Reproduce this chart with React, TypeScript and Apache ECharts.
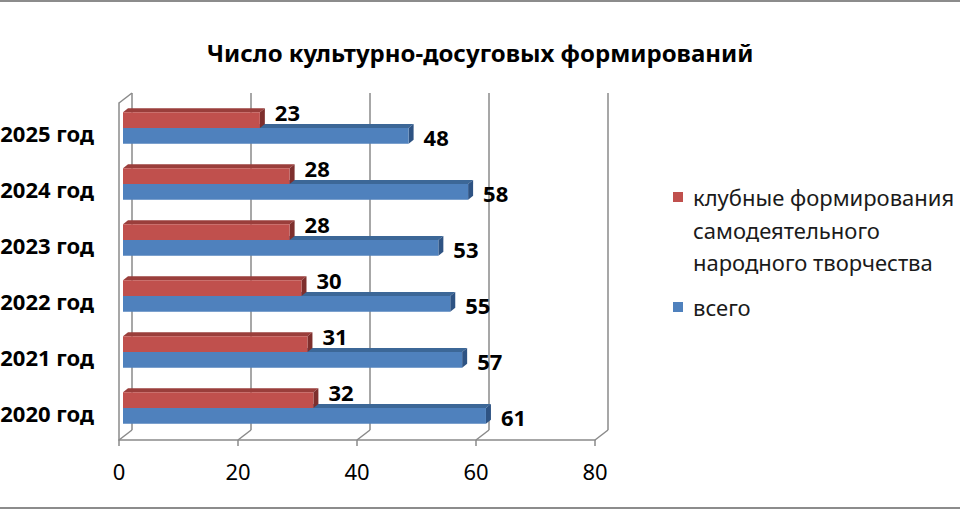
import React, { useEffect, useRef } from "react";
import * as echarts from "echarts";

const categories = ["2020 год", "2021 год", "2022 год", "2023 год", "2024 год", "2025 год"];
const clubValues = [32, 31, 30, 28, 28, 23];
const totalValues = [61, 57, 55, 53, 58, 48];
const xTicks = [0, 20, 40, 60, 80];
const seriesNames = ["клубные формирования самодеятельного народного творчества", "всего"];
const legendLines = ["клубные формирования", "самодеятельного", "народного творчества"];

const FONT = "'Noto Sans', 'DejaVu Sans', sans-serif";
const RED = { front: "#C0504D", top: "#9A3E3B", side: "#7E2F2D" };
const BLUE = { front: "#4F81BD", top: "#3C6797", side: "#2E5383" };
const GRID_COLOR = "#8a8a8a";

function barRenderer(colors: any, upper: boolean) {
  return (params: any, api: any) => {
    const v = api.value(0);
    const ci = api.value(1);
    const end = api.coord([v, ci]);
    const start = api.coord([0, ci]);
    const band = api.size([0, 1])[1];
    const h = band * 0.28;
    const x0 = start[0];
    const x1 = end[0];
    const y0 = upper ? end[1] - h : end[1];
    const y1 = y0 + h;
    const dx = 5;
    const dy = -4;
    const labelY = upper ? y0 - 0.5 : (y0 + y1) / 2 + 1.5;
    return {
      type: "group",
      children: [
        {
          type: "polygon",
          shape: { points: [[x0, y0], [x0 + dx, y0 + dy], [x1 + dx, y0 + dy], [x1, y0]] },
          style: { fill: colors.top },
        },
        {
          type: "polygon",
          shape: { points: [[x1, y0], [x1 + dx, y0 + dy], [x1 + dx, y1 + dy], [x1, y1]] },
          style: { fill: colors.side },
        },
        {
          type: "rect",
          shape: { x: x0, y: y0, width: x1 - x0, height: h },
          style: { fill: colors.front },
        },
        {
          type: "text",
          x: x1 + 15,
          y: labelY,
          style: {
            text: String(v),
            fill: "#000",
            font: `bold 22px ${FONT}`,
            align: "left",
            verticalAlign: "middle",
          },
        },
      ],
    };
  };
}

export default function App() {
  const ref = useRef<HTMLDivElement>(null);
  useEffect(() => {
    if (!ref.current) return;
    const chart = echarts.init(ref.current, undefined, { renderer: "svg" });
    const option: any = {
      animation: false,
      backgroundColor: "#ffffff",
      title: {
        text: "Число культурно-досуговых формирований",
        left: "center",
        top: 35,
        textStyle: { fontFamily: FONT, fontWeight: "bold", fontSize: 24, color: "#000" },
      },
      grid: [
        { left: 123, top: 100, width: 476, height: 336, outerBoundsMode: "none", containLabel: false },
        { left: 132, top: 93, width: 476, height: 337, outerBoundsMode: "none", containLabel: false },
        { left: 119, top: 103, width: 476, height: 337, outerBoundsMode: "none", containLabel: false },
      ],
      xAxis: [
        { gridIndex: 0, type: "value", min: 0, max: 80, interval: 20, show: false },
        {
          gridIndex: 1,
          type: "value",
          min: 0,
          max: 80,
          interval: 20,
          axisLine: { show: false },
          axisTick: { show: false },
          axisLabel: { show: false },
          splitLine: { show: true, lineStyle: { color: GRID_COLOR, width: 1.5 } },
        },
        {
          gridIndex: 2,
          type: "value",
          min: 0,
          max: 80,
          interval: 20,
          axisLine: { show: true, lineStyle: { color: GRID_COLOR, width: 1.5 } },
          axisTick: { show: true, length: 6, lineStyle: { color: GRID_COLOR, width: 1.5 } },
          axisLabel: {
            show: true,
            margin: 20,
            fontFamily: FONT,
            fontSize: 22,
            color: "#000",
            formatter: (val: number) => (xTicks.includes(val) ? String(val) : ""),
          },
          splitLine: { show: false },
        },
      ],
      yAxis: [
        {
          gridIndex: 0,
          type: "category",
          data: categories,
          axisLine: { show: false },
          axisTick: { show: false },
          axisLabel: { show: false },
        },
        { gridIndex: 1, type: "value", min: 0, max: 1, show: false },
        {
          gridIndex: 2,
          type: "value",
          min: 0,
          max: 1,
          axisLine: { show: true, lineStyle: { color: GRID_COLOR, width: 1.5 } },
          axisTick: { show: false },
          axisLabel: { show: false },
          splitLine: { show: false },
        },
      ],
      series: [
        {
          type: "custom",
          name: "frame",
          xAxisIndex: 2,
          yAxisIndex: 2,
          silent: true,
          data: xTicks.map((t) => [t, 0]),
          renderItem: (params: any, api: any) => {
            const v = api.value(0);
            const p = api.coord([v, 0]);
            const children: any[] = [
              {
                type: "line",
                shape: { x1: p[0], y1: p[1], x2: p[0] + 13, y2: p[1] - 10 },
                style: { stroke: GRID_COLOR, lineWidth: 1.5 },
              },
            ];
            if (v === 0) {
              const q = api.coord([0, 1]);
              children.push({
                type: "line",
                shape: { x1: q[0], y1: q[1], x2: q[0] + 13, y2: q[1] - 10 },
                style: { stroke: GRID_COLOR, lineWidth: 1.5 },
              });
            }
            return { type: "group", children };
          },
          z: 1,
        },
        {
          type: "custom",
          name: "categoryLabels",
          xAxisIndex: 0,
          yAxisIndex: 0,
          silent: true,
          data: categories.map((c, i) => [0, i]),
          encode: { x: 0, y: 1 },
          renderItem: (params: any, api: any) => {
            const ci = api.value(1);
            const p = api.coord([0, ci]);
            return {
              type: "text",
              x: p[0] - 29,
              y: p[1] + 5,
              style: {
                text: categories[ci],
                fill: "#000",
                font: `bold 22px ${FONT}`,
                align: "right",
                verticalAlign: "middle",
              },
            };
          },
          z: 2,
        },
        {
          type: "custom",
          name: seriesNames[1],
          xAxisIndex: 0,
          yAxisIndex: 0,
          data: totalValues.map((v, i) => [v, i]),
          encode: { x: 0, y: 1 },
          renderItem: barRenderer(BLUE, false),
          z: 3,
        },
        {
          type: "custom",
          name: seriesNames[0],
          xAxisIndex: 0,
          yAxisIndex: 0,
          data: clubValues.map((v, i) => [v, i]),
          encode: { x: 0, y: 1 },
          renderItem: barRenderer(RED, true),
          z: 4,
        },
      ],
      graphic: [
        { type: "line", shape: { x1: 0, y1: 1, x2: 960, y2: 1 }, style: { stroke: "#8c8c8c", lineWidth: 2 } },
        { type: "line", shape: { x1: 0, y1: 508, x2: 960, y2: 508 }, style: { stroke: "#8c8c8c", lineWidth: 2 } },
        { type: "rect", shape: { x: 673, y: 192, width: 10, height: 10 }, style: { fill: RED.front } },
        {
          type: "text",
          x: 693,
          y: 181,
          style: {
            text: legendLines.join("\n"),
            font: `22px ${FONT}`,
            lineHeight: 32.5,
            fill: "#1a1a1a",
            verticalAlign: "top",
          },
        },
        { type: "rect", shape: { x: 673, y: 302, width: 10, height: 10 }, style: { fill: BLUE.front } },
        {
          type: "text",
          x: 693,
          y: 291,
          style: {
            text: seriesNames[1],
            font: `22px ${FONT}`,
            lineHeight: 32.5,
            fill: "#1a1a1a",
            verticalAlign: "top",
          },
        },
      ],
    };
    chart.setOption(option);
    return () => chart.dispose();
  }, []);
  return <div ref={ref} style={{ position: "absolute", left: 0, top: 0, width: 960, height: 510 }} />;
}
